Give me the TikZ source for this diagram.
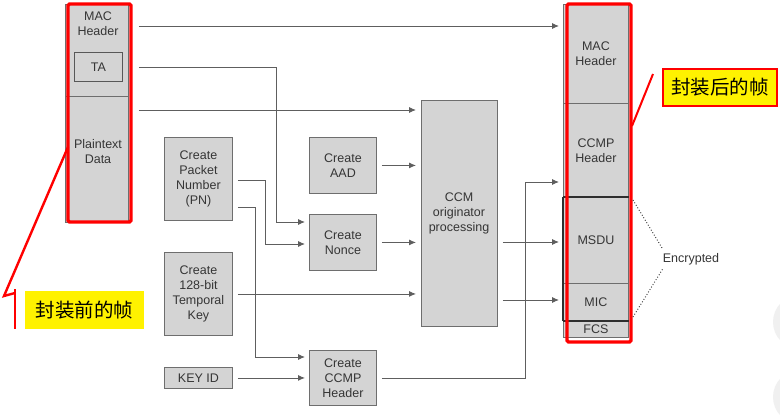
\documentclass[tikz,border=0pt]{standalone}
\usepackage{fontspec}
\setmainfont{Liberation Sans}
\newfontfamily\cjk{Noto Sans CJK SC}
\usetikzlibrary{arrows.meta,calc}
\definecolor{boxfill}{HTML}{D4D4D4}
\definecolor{boxline}{HTML}{6E6E6E}
\definecolor{lineg}{HTML}{5E5E5E}
\definecolor{txt}{HTML}{353535}
\definecolor{darkedge}{HTML}{2E2E2E}
\begin{document}
\begin{tikzpicture}[x=1pt,y=-1pt,
  box/.style={draw=boxline, fill=boxfill, line width=0.9pt, anchor=north west, inner sep=0pt,
              text=txt, font=\fontsize{12.5}{15}\selectfont, align=center},
  lbl/.style={text=txt, font=\fontsize{12.5}{15}\selectfont, align=center, inner sep=0pt},
  conn/.style={draw=lineg, line width=0.9pt},
  arr/.style={conn, -{Latex[length=7pt,width=6pt]}, shorten >=4pt},
  redframe/.style={draw=red, line width=3.2pt, rounded corners=1.5pt},
  cjklbl/.style={fill=yellow, font=\cjk\fontsize{19.5}{21}\selectfont, text=black, inner sep=0pt, anchor=north west},
]
\useasboundingbox (0,0) rectangle (780,415);
\fill[white] (0,0) rectangle (780,415);

% faint UI circles at the right edge
\begin{scope}
  \clip (0,0) rectangle (780,415);
  \fill[gray!12] (800,322) circle (27);
  \fill[gray!12] (800,397) circle (27);
\end{scope}

% ---------- left frame ----------
\node[box, minimum width=63, minimum height=92] (lmac) at (65,4) {};
\node[box, minimum width=63, minimum height=126] (ldata) at (65,96) {};
\node[lbl] (lmact) at (98,24) {MAC\\Header};
\node[box, draw=darkedge!80, minimum width=48, minimum height=29] (ta) at (74,52) {TA};
\node[lbl] (ldatat) at (98,152) {Plaintext\\Data};
\draw[redframe] (68,4) rectangle (131,222);

% left callout
\draw[red, line width=2.4pt, line join=miter] (68,147) -- (4,296) -- (15,293);
\draw[red, line width=2.4pt] (15,289) -- (15,329);
\node[cjklbl, minimum width=119, minimum height=38] (lcall) at (25,291) {封装前的帧};

% ---------- middle boxes ----------
\node[box, minimum width=68, minimum height=83] (pn) at (164,137) {Create\\Packet\\Number\\(PN)};
\node[box, minimum width=68, minimum height=83] (tk) at (164,252) {Create\\128-bit\\Temporal\\Key};
\node[box, minimum width=68, minimum height=21] (keyid) at (164,367) {KEY ID};
\node[box, minimum width=67, minimum height=56] (aad) at (309,137) {Create\\AAD};
\node[box, minimum width=67, minimum height=56] (nonce) at (309,214) {Create\\Nonce};
\node[box, minimum width=67, minimum height=55] (ccmph) at (309,350) {Create\\CCMP\\Header};
\node[box, minimum width=76, minimum height=226] (ccm) at (421,100) {};
\node[lbl] (ccmt) at (459,213) {CCM\\originator\\processing};

% ---------- right frame ----------
\node[box, minimum width=65, minimum height=99] (rmac) at (563,4) {MAC\\Header};
\node[box, minimum width=65, minimum height=94] (rccmp) at (563,103) {CCMP\\Header};
\node[box, minimum width=65, minimum height=86] (rmsdu) at (563,197) {MSDU};
\node[box, minimum width=65, minimum height=37] (rmic) at (563,283) {MIC};
\node[box, minimum width=65, minimum height=17] (rfcs) at (563,320) {FCS};
\draw[darkedge, line width=2pt] (rmsdu.north west) -- (rmsdu.north east);
\draw[darkedge, line width=2pt] (rmic.south west) -- (rmic.south east);
\draw[darkedge, line width=2pt] (rmsdu.north west) -- (rmic.south west);
\draw[redframe] (567,4) rectangle (631,342);

% right callout
\draw[red, line width=2pt] (632,126) -- (653,74);
\node[cjklbl, draw=red, line width=2pt, minimum width=114, minimum height=37] (rcall) at (662,68) {封装后的帧};

% encrypted
\node[lbl] (enc) at (691,259) {Encrypted};
\coordinate (e1) at (633,200);
\coordinate (e2) at (633,317);
\draw[darkedge, line width=0.9pt, dotted] (e1) -- ($(enc.north west)+(0,-4)$);
\draw[darkedge, line width=0.9pt, dotted] (e2) -- ($(enc.south west)+(0,4)$);

% ---------- connectors ----------
\coordinate (y26) at (0,26);
\coordinate (y110) at (0,110);
\coordinate (taB) at (276,222);
\coordinate (pnA) at (0,180);
\coordinate (pnAB) at (265,244);
\coordinate (pnB) at (0,207);
\coordinate (pnBB) at (255,357);
\coordinate (y242) at (0,242);
\coordinate (y300) at (0,300);
\coordinate (chB) at (525,182);

\draw[arr, shorten <=10pt] (lmac.east |- y26) -- (rmac.west |- y26);
\draw[arr, shorten <=10pt] (lmac.east |- ta.east) -| (taB) -- (nonce.west |- taB);
\draw[arr, shorten <=10pt, shorten >=5pt] (ldata.east |- y110) -- (ccm.west |- y110);
\draw[arr, shorten <=5pt] (pn.east |- pnA) -| (pnAB) -- (nonce.west |- pnAB);
\draw[arr, shorten <=5pt] (pn.east |- pnB) -| (pnBB) -- (ccmph.west |- pnBB);
\draw[arr, shorten <=5pt, shorten >=5pt] (tk.east) -- (ccm.west |- tk.east);
\draw[arr, shorten <=5pt] (keyid.east) -- (ccmph.west |- keyid.east);
\draw[arr, shorten <=5pt, shorten >=5pt] (aad.east) -- (ccm.west |- aad.east);
\draw[arr, shorten <=5pt, shorten >=5pt] (nonce.east) -- (ccm.west |- nonce.east);
\draw[arr, shorten <=5pt] (ccm.east |- y242) -- (rmsdu.west |- y242);
\draw[arr, shorten <=5pt] (ccm.east |- y300) -- (rmic.west |- y300);
\draw[arr, shorten <=5pt] (ccmph.east) -| (chB) -- (rccmp.west |- chB);
\end{tikzpicture}
\end{document}
